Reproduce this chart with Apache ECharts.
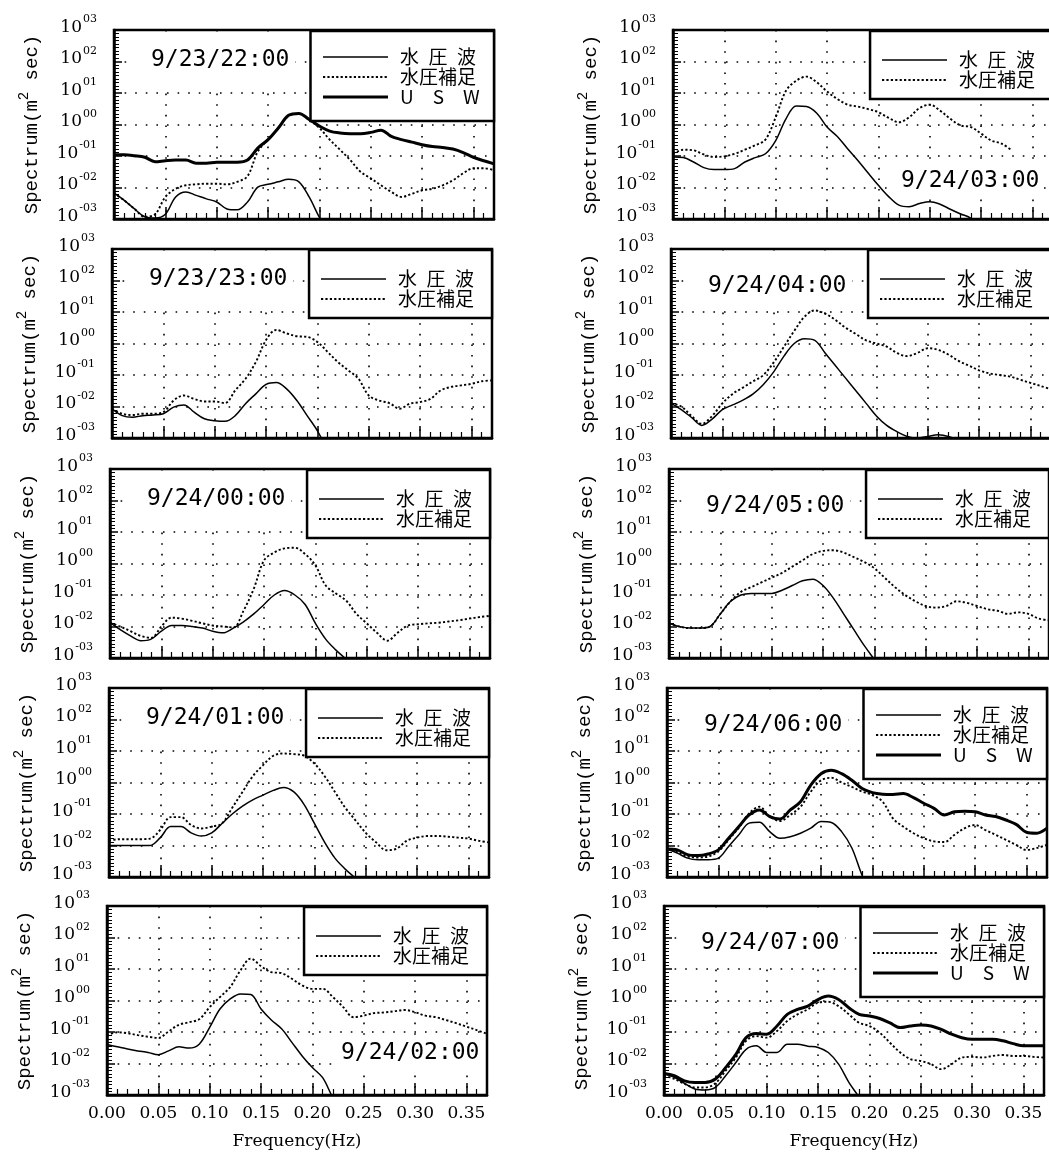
<!DOCTYPE html>
<html><head><meta charset="utf-8">
<script src="https://cdn.jsdelivr.net/npm/echarts@6/dist/echarts.min.js"></script>
<style>html,body{margin:0;padding:0;background:#fff}#c{width:1049px;height:1170px}</style>
</head><body><div id="c"></div>
<script>
// ---------------- DATA (log10 of spectrum, m^2 sec) ----------------
const freq = [0.00,0.01,0.02,0.03,0.04,0.05,0.06,0.07,0.08,0.09,0.10,0.11,0.12,0.13,0.14,0.15,0.16,0.17,0.18,0.19,0.20,0.21,0.22,0.23,0.24,0.25,0.26,0.27,0.28,0.29,0.30,0.31,0.32,0.33,0.34,0.35,0.36,0.37];
const xTickLabels = ['0.00','0.05','0.10','0.15','0.20','0.25','0.30','0.35'];
const yTickExponents = [-3,-2,-1,0,1,2,3];
const yTickSup = ['-03','-02','-01','00','01','02','03'];
const seriesNames = ['水\u2002圧\u2002波','水圧補足','U\u2003S\u2003W'];
const panelTimes = ['9/23/22:00','9/23/23:00','9/24/00:00','9/24/01:00','9/24/02:00','9/24/03:00','9/24/04:00','9/24/05:00','9/24/06:00','9/24/07:00'];

const p1_wave = [-2.18,-2.41,-2.68,-2.93,-2.97,-2.85,-2.30,-2.14,-2.25,-2.36,-2.46,-2.68,-2.71,-2.46,-1.99,-1.90,-1.82,-1.74,-1.82,-2.30,-2.95,-3.5];
const p1_supp = [-2.18,-2.41,-2.68,-2.93,-2.85,-2.30,-2.04,-1.93,-1.90,-1.88,-1.88,-1.90,-1.82,-1.64,-0.86,-0.48,-0.11,0.27,0.34,0.14,-0.11,-0.48,-0.80,-1.13,-1.50,-1.71,-1.93,-2.14,-2.30,-2.20,-2.09,-2.04,-1.93,-1.77,-1.55,-1.39,-1.39,-1.45];
const p1_usw  = [-0.96,-0.96,-0.99,-1.04,-1.18,-1.15,-1.13,-1.13,-1.23,-1.23,-1.20,-1.20,-1.20,-1.13,-0.75,-0.48,-0.11,0.29,0.35,0.16,-0.05,-0.21,-0.27,-0.29,-0.29,-0.25,-0.18,-0.38,-0.48,-0.56,-0.64,-0.70,-0.73,-0.78,-0.89,-1.04,-1.15,-1.25];

const p2_wave = [-2.07,-2.29,-2.34,-2.29,-2.27,-2.23,-2.02,-1.95,-2.18,-2.39,-2.45,-2.47,-2.29,-1.91,-1.60,-1.30,-1.24,-1.44,-1.81,-2.29,-2.77,-3.4];
const p2_supp = [-2.07,-2.23,-2.27,-2.23,-2.23,-2.18,-1.81,-1.65,-1.76,-1.84,-1.84,-1.89,-1.49,-1.12,-0.59,0.11,0.43,0.32,0.23,0.21,0.05,-0.27,-0.59,-0.85,-1.12,-1.65,-1.81,-1.89,-2.07,-1.91,-1.86,-1.76,-1.49,-1.38,-1.33,-1.28,-1.20,-1.17];

const p3_wave = [-1.88,-2.10,-2.30,-2.45,-2.40,-2.15,-1.97,-1.97,-2.00,-2.05,-2.15,-2.20,-2.05,-1.85,-1.60,-1.30,-1.00,-0.86,-1.00,-1.30,-1.90,-2.40,-2.75,-3.05,-3.5];
const p3_supp = [-1.88,-2.00,-2.15,-2.30,-2.36,-2.00,-1.72,-1.75,-1.82,-1.90,-1.97,-2.00,-2.03,-1.50,-0.80,0.10,0.35,0.48,0.50,0.30,-0.06,-0.70,-0.95,-1.18,-1.60,-1.90,-2.20,-2.45,-2.20,-1.97,-1.93,-1.90,-1.88,-1.84,-1.80,-1.75,-1.70,-1.66];

const p4_wave = [-2.00,-2.00,-2.00,-2.00,-2.00,-1.75,-1.40,-1.40,-1.60,-1.70,-1.60,-1.30,-1.00,-0.75,-0.55,-0.40,-0.25,-0.16,-0.30,-0.70,-1.30,-1.90,-2.40,-2.75,-3.05,-3.5];
const p4_supp = [-1.85,-1.80,-1.80,-1.80,-1.78,-1.50,-1.10,-1.10,-1.35,-1.46,-1.40,-1.30,-0.80,-0.30,0.20,0.55,0.85,0.92,0.90,0.85,0.60,0.20,-0.30,-0.80,-1.20,-1.60,-1.90,-2.15,-2.10,-1.85,-1.75,-1.70,-1.70,-1.72,-1.75,-1.78,-1.85,-1.90];

const p5_wave = [-1.40,-1.47,-1.54,-1.60,-1.65,-1.72,-1.60,-1.47,-1.51,-1.38,-0.85,-0.27,0.05,0.21,0.19,-0.27,-0.62,-0.90,-1.33,-1.76,-2.13,-2.45,-3.08,-3.5];
const p5_supp = [-1.12,-1.01,-1.04,-1.10,-1.15,-1.19,-0.98,-0.77,-0.69,-0.59,-0.21,0.11,0.43,0.96,1.33,1.09,0.90,0.87,0.69,0.48,0.37,0.37,0.11,-0.21,-0.53,-0.48,-0.40,-0.38,-0.34,-0.30,-0.37,-0.48,-0.53,-0.62,-0.72,-0.83,-0.94,-1.06];

const p6_wave = [-1.03,-1.05,-1.19,-1.37,-1.43,-1.43,-1.40,-1.19,-1.05,-0.93,-0.51,0.18,0.59,0.57,0.36,-0.08,-0.38,-0.77,-1.14,-1.54,-1.93,-2.29,-2.56,-2.61,-2.51,-2.45,-2.53,-2.69,-2.84,-2.98,-3.4];
const p6_supp = [-0.93,-0.80,-0.82,-0.95,-1.03,-1.01,-0.93,-0.80,-0.66,-0.48,0.23,1.07,1.39,1.52,1.34,1.05,0.81,0.63,0.57,0.49,0.39,0.21,0.07,0.23,0.52,0.63,0.44,0.18,-0.03,-0.08,-0.29,-0.51,-0.61,-0.82];

const p7_wave = [-1.90,-2.10,-2.35,-2.60,-2.40,-2.10,-1.95,-1.80,-1.60,-1.30,-0.90,-0.40,0.00,0.15,0.10,-0.30,-0.70,-1.10,-1.50,-1.90,-2.30,-2.60,-2.80,-2.95,-3.00,-2.95,-2.90,-2.95,-3.10,-3.5];
const p7_supp = [-1.90,-2.00,-2.30,-2.55,-2.30,-1.90,-1.60,-1.40,-1.20,-1.00,-0.60,-0.10,0.40,0.85,1.05,0.95,0.75,0.50,0.30,0.10,0.00,-0.10,-0.30,-0.40,-0.30,-0.15,-0.20,-0.35,-0.55,-0.70,-0.85,-0.95,-1.00,-1.05,-1.15,-1.25,-1.35,-1.45];

const p8_wave = [-1.90,-2.00,-2.05,-2.05,-2.00,-1.60,-1.20,-1.00,-0.95,-0.95,-0.95,-0.85,-0.70,-0.55,-0.50,-0.70,-1.10,-1.60,-2.10,-2.60,-3.05,-3.5];
const p8_supp = [-1.90,-2.00,-2.05,-2.05,-2.00,-1.60,-1.20,-0.90,-0.75,-0.60,-0.45,-0.30,-0.10,0.10,0.30,0.40,0.42,0.35,0.20,0.05,-0.15,-0.45,-0.75,-1.00,-1.20,-1.35,-1.40,-1.35,-1.20,-1.25,-1.35,-1.45,-1.50,-1.60,-1.55,-1.60,-1.75,-1.80];

const p9_wave = [-2.11,-2.24,-2.40,-2.45,-2.45,-2.40,-2.03,-1.66,-1.29,-1.26,-1.56,-1.77,-1.72,-1.61,-1.45,-1.24,-1.27,-1.56,-2.08,-2.95,-3.6];
const p9_supp = [-2.11,-2.19,-2.35,-2.38,-2.35,-2.19,-1.82,-1.43,-0.98,-0.77,-1.08,-1.22,-1.03,-0.77,-0.29,0.07,0.15,0.00,-0.14,-0.29,-0.40,-0.61,-1.14,-1.40,-1.61,-1.77,-1.87,-1.89,-1.66,-1.45,-1.35,-1.51,-1.66,-1.82,-1.98,-2.14,-2.08,-1.98];
const p9_usw  = [-2.11,-2.14,-2.29,-2.32,-2.27,-2.14,-1.77,-1.40,-1.03,-0.87,-1.08,-1.16,-0.87,-0.61,-0.08,0.28,0.39,0.28,0.07,-0.19,-0.32,-0.37,-0.38,-0.35,-0.48,-0.66,-0.82,-1.03,-0.93,-0.91,-0.93,-1.03,-1.08,-1.19,-1.33,-1.58,-1.61,-1.45];

const p10_wave = [-2.32,-2.44,-2.63,-2.81,-2.84,-2.76,-2.39,-1.97,-1.55,-1.44,-1.65,-1.65,-1.39,-1.39,-1.45,-1.49,-1.65,-2.02,-2.60,-3.07,-3.6];
const p10_supp = [-2.39,-2.49,-2.65,-2.76,-2.76,-2.63,-2.23,-1.81,-1.28,-1.13,-1.18,-0.97,-0.65,-0.44,-0.28,-0.07,-0.04,-0.18,-0.44,-0.71,-0.81,-1.02,-1.34,-1.65,-1.86,-1.92,-2.02,-2.18,-2.02,-1.81,-1.79,-1.81,-1.76,-1.73,-1.76,-1.76,-1.79,-1.81];
const p10_usw  = [-2.32,-2.39,-2.55,-2.60,-2.60,-2.49,-2.13,-1.71,-1.18,-1.05,-1.07,-0.81,-0.44,-0.28,-0.18,0.03,0.14,0.03,-0.23,-0.44,-0.49,-0.57,-0.71,-0.86,-0.81,-0.78,-0.81,-0.92,-1.07,-1.18,-1.23,-1.23,-1.23,-1.28,-1.37,-1.44,-1.44,-1.44];

const panelSeries = [
  [p1_wave, p1_supp, p1_usw], [p2_wave, p2_supp], [p3_wave, p3_supp], [p4_wave, p4_supp], [p5_wave, p5_supp],
  [p6_wave, p6_supp], [p7_wave, p7_supp], [p8_wave, p8_supp], [p9_wave, p9_supp, p9_usw], [p10_wave, p10_supp, p10_usw]
];

// ---------------- LAYOUT ----------------
const chart = echarts.init(document.getElementById('c'), null, {renderer: 'canvas'});
const colLeft = [[114,112,110,109,107],[673,671,669,667,664]];
const rowTop = [30,249,469,688,906];
const W = 380, H = 189, CW = 1049;
const titleMode = ['tl','tl','tl','tl','br','br','tl','tl','tl','tl'];
const brOffsets = {4: [234, 147], 5: [228, 151]};

const grids = [], xAxes = [], yAxes = [], series = [], titles = [], legends = [];
const serif = 'DejaVu Serif';
const lineStyles = [
  {color: '#000', width: 1.5, type: 'solid'},
  {color: '#000', width: 1.9, type: [2.2, 2.2]},
  {color: '#000', width: 3, type: 'solid'}
];

for (let i = 0; i < 10; i++) {
  const col = i < 5 ? 0 : 1, row = i % 5;
  const L = colLeft[col][row], T = rowTop[row];
  const bottomRow = row === 4;
  grids.push({left: L, top: T, width: W, height: H, show: true, borderColor: '#000', borderWidth: 2.5,
    backgroundColor: '#fff', containLabel: false, outerBoundsMode: 'none'});
  xAxes.push({
    gridIndex: i, type: 'value', min: 0, max: 0.37, interval: 0.05,
    axisLine: {show: true, onZero: false, lineStyle: {color: '#000', width: 2.5}},
    axisTick: {show: true, inside: true, length: 12, lineStyle: {color: '#000', width: 1.5}},
    minorTick: {show: true, splitNumber: 5, length: 6, lineStyle: {color: '#000', width: 1.2}},
    splitLine: {show: true, lineStyle: {color: '#000', width: 1.6, type: [1.6, 9]}},
    axisLabel: {show: bottomRow, margin: 10, showMaxLabel: false, fontFamily: serif, fontSize: 17, color: '#000',
      formatter: v => { const k = Math.round(v / 0.05); return Math.abs(v - k * 0.05) < 1e-6 && k < xTickLabels.length ? xTickLabels[k] : ''; }},
    name: bottomRow ? 'Frequency(Hz)' : '', nameLocation: 'middle', nameGap: 38,
    nameTextStyle: {fontFamily: serif, fontSize: 17, color: '#000'}
  });
  yAxes.push({
    gridIndex: i, type: 'value', min: -3, max: 3, interval: 1,
    axisLine: {show: true, onZero: false, lineStyle: {color: '#000', width: 2.5}},
    axisTick: {show: true, inside: true, length: 8, lineStyle: {color: '#000', width: 1.5}},
    minorTick: {show: true, splitNumber: 9, length: 5, lineStyle: {color: '#000', width: 1}},
    splitLine: {show: true, lineStyle: {color: '#000', width: 1.6, type: [1.6, 9]}},
    axisLabel: {margin: 17, padding: [0, 0, 10, 0],
      formatter: v => { const k = yTickExponents.indexOf(Math.round(v)); return '{b|10}{s|' + yTickSup[k] + '}'; },
      rich: {b: {fontFamily: serif, fontSize: 17, color: '#000', lineHeight: 22, verticalAlign: 'bottom'},
             s: {fontFamily: serif, fontSize: 11, color: '#000', lineHeight: 22, verticalAlign: 'top', padding: [0,0,0,1]}}},
    name: '{n|Spectrum(m}{s|2}{n| sec)}', nameLocation: 'middle', nameGap: 73, nameRotate: 90,
    nameTextStyle: {rich: {n: {fontFamily: 'Liberation Mono', fontSize: 19, color: '#000', lineHeight: 24, verticalAlign: 'bottom'},
                           s: {fontFamily: 'Liberation Mono', fontSize: 14, color: '#000', lineHeight: 24, verticalAlign: 'top'}}}
  });
  const arrs = panelSeries[i];
  arrs.forEach((arr, j) => {
    series.push({type: 'line', name: seriesNames[j], xAxisIndex: i, yAxisIndex: i,
      data: arr.map((v, k) => [freq[k], v]), smooth: 0.35, symbol: 'none', clip: true, silent: true,
      lineStyle: lineStyles[j], z: 3 + j});
  });
  const tStyle = {fontFamily: 'DejaVu Sans Mono', fontSize: 23, fontWeight: 'normal', color: '#000', lineHeight: 24};
  if (titleMode[i] === 'tl') {
    const c = col === 0 ? 30 : 37;
    const pt = c - 12 - 3, pb = 60 - (c + 12);
    titles.push({text: panelTimes[i], left: L + 17, top: T + 3, padding: [pt, 6, pb, 20],
      backgroundColor: '#fff', textStyle: tStyle, z: 5});
  } else {
    const o = brOffsets[i];
    titles.push({text: panelTimes[i], left: L + o[0] - 6, top: T + o[1] - 12 - 5, padding: [5, 2, 5, 6],
      backgroundColor: '#fff', textStyle: tStyle, z: 5});
  }
  const n = arrs.length;
  legends.push({
    orient: 'vertical', right: CW - (L + W), top: T + 1, data: seriesNames.slice(0, n),
    itemWidth: 65, itemHeight: 20, itemGap: 0, selectedMode: false,
    padding: n === 3 ? [16, 10, 14, 11] : [19, 10, 9, 11],
    borderColor: '#000', borderWidth: 2.5, backgroundColor: '#fff',
    itemStyle: {opacity: 0, borderWidth: 0},
    lineStyle: {width: 'inherit', type: 'inherit', color: '#000'},
    textStyle: {fontFamily: 'Noto Sans CJK JP', fontSize: 19, color: '#000', width: 84, padding: [0, 0, 0, 7], lineHeight: 20},
    z: 6
  });
}

chart.setOption({
  animation: false,
  backgroundColor: '#fff',
  title: titles,
  legend: legends,
  grid: grids,
  xAxis: xAxes,
  yAxis: yAxes,
  series: series
});
</script></body></html>
